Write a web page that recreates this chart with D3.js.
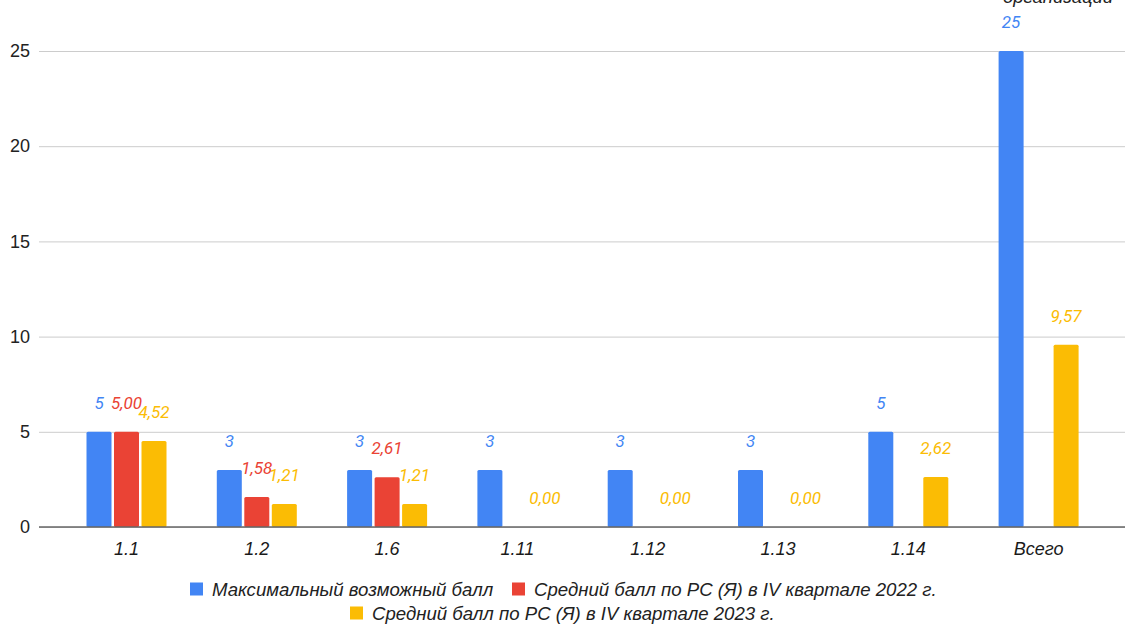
<!DOCTYPE html>
<html><head><meta charset="utf-8">
<script src="https://cdn.jsdelivr.net/npm/d3@7"></script>
<style>
html,body{margin:0;padding:0;background:#fff;}
svg{display:block;font-family:Roboto, "Noto Sans", Arial, sans-serif;}
</style></head>
<body>
<svg id="chart" width="1125" height="624"></svg>
<script>
const categories = ["1.1","1.2","1.6","1.11","1.12","1.13","1.14","Всего"];
const maxScore = [5,3,3,3,3,3,5,25];
const avg2022 = [5.00,1.58,2.61,null,null,null,null,null];
const avg2023 = [4.52,1.21,1.21,0,0,0,2.62,9.57];
const yTicks = [0,5,10,15,20,25];
const seriesNames = ["Максимальный возможный балл","Средний балл по РС (Я) в IV квартале 2022 г.","Средний балл по РС (Я) в IV квартале 2023 г."];
const seriesColors = ["#4285F4","#EA4335","#FBBC04"];
const titleTail = "организаций";

const ARIAL = "'Liberation Sans', Arial, sans-serif";
const series = [
  {key:"max", values:maxScore, color:seriesColors[0], name:seriesNames[0], fmt:d=>String(d)},
  {key:"y2022", values:avg2022, color:seriesColors[1], name:seriesNames[1], fmt:d=>d.toFixed(2).replace(".",",")},
  {key:"y2023", values:avg2023, color:seriesColors[2], name:seriesNames[2], fmt:d=>d.toFixed(2).replace(".",",")}
];

const svg = d3.select("#chart");
const step = 130.3, firstCenter = 126.5;
const x0 = d3.scaleBand().domain(categories)
  .range([firstCenter - step/2, firstCenter - step/2 + step*categories.length]).padding(0);
const x1 = d3.scaleBand().domain(series.map(s=>s.key)).range([-40,40]).paddingInner(2.5/27.5).paddingOuter(0);
const y = d3.scaleLinear().domain([0,25]).range([527,51]);

// title tail (cut off at top edge, as in the reference)
svg.append("text").attr("x",1003).attr("y",3).attr("font-size",18.5).attr("font-style","italic")
  .attr("font-family",ARIAL).attr("fill","#222").text(titleTail);

// gridlines
const yAxis = d3.axisLeft(y).tickValues(yTicks).tickSize(-(1125-39)).tickPadding(9).tickFormat(d3.format("d"));
const gy = svg.append("g").attr("transform","translate(39,0)").call(yAxis);
gy.select(".domain").remove();
gy.selectAll(".tick line").attr("stroke","#cccccc").attr("stroke-width",1);
gy.selectAll(".tick text").attr("font-size",18).attr("fill","#222").attr("font-family",ARIAL);

// bars
const groups = svg.append("g").selectAll("g").data(categories).join("g")
  .attr("transform",d=>`translate(${x0(d)+x0.bandwidth()/2},0)`);

series.forEach(s=>{
  groups.each(function(cat,i){
    const v = s.values[i];
    if (v === null || v === undefined) return;
    const g = d3.select(this);
    if (v > 0) {
      g.append("rect").attr("x",x1(s.key)).attr("width",x1.bandwidth())
        .attr("y",y(v)).attr("height",y(0)-y(v)).attr("rx",1.5).attr("fill",s.color);
    }
    g.append("text").attr("x",x1(s.key)+x1.bandwidth()/2).attr("y",y(v)-23)
      .attr("text-anchor","middle").attr("font-size",17).attr("font-style","italic")
      .attr("fill",s.color).text(s.fmt(v));
  });
});

// baseline
svg.append("line").attr("x1",39).attr("x2",1125).attr("y1",y(0)).attr("y2",y(0))
  .attr("stroke","#666").attr("stroke-width",1.5);

// x axis labels
const xAxis = d3.axisBottom(x0).tickSize(0).tickPadding(15);
const gx = svg.append("g").attr("transform",`translate(0,${y(0)})`).call(xAxis);
gx.select(".domain").remove();
gx.selectAll(".tick text").attr("font-size",18).attr("font-style","italic")
  .attr("fill","#1a1a1a").attr("font-family",ARIAL);

// legend
const legendItems = [
  {s:series[0], x:190, y:589},
  {s:series[1], x:512, y:589},
  {s:series[2], x:350, y:613}
];
const lg = svg.append("g");
legendItems.forEach(it=>{
  lg.append("rect").attr("x",it.x).attr("y",it.y-6.5).attr("width",13).attr("height",13).attr("fill",it.s.color);
  lg.append("text").attr("x",it.x+22).attr("y",it.y).attr("dy","0.35em").attr("font-size",18.6)
    .attr("font-style","italic").attr("font-family",ARIAL).attr("fill","#222").text(it.s.name);
});
</script>
</body></html>
